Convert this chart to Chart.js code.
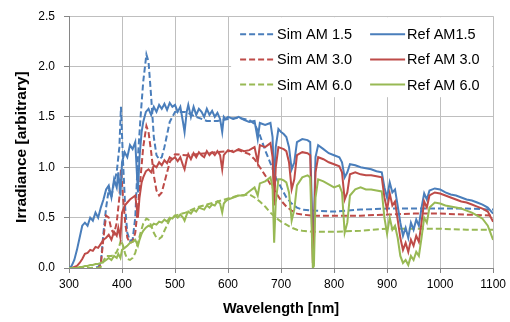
<!DOCTYPE html>
<html lang="en">
<head>
<meta charset="UTF-8">
<title>Irradiance spectra, AM 1.5 / 3.0 / 6.0</title>
<script src="https://cdn.jsdelivr.net/npm/chart.js@4.4.0/dist/chart.umd.min.js"></script>
<style>
  html, body { margin: 0; padding: 0; background: #fff; }
  canvas { display: block; }
</style>
</head>
<body>
<canvas id="myChart" width="510" height="322"></canvas>
<script>
// measured reference spectra (fine grid)
const refWl = [
  300, 305, 310, 315, 320, 325, 330, 335, 340, 345,
  350, 355, 360, 365, 370, 375, 380, 385, 390, 393,
  397, 400, 405, 410, 415, 420, 425, 430, 433, 437,
  440, 445, 450, 455, 460, 465, 470, 475, 480, 485,
  490, 495, 500, 505, 510, 515, 518, 522, 525, 530,
  535, 540, 545, 550, 555, 560, 565, 570, 575, 580,
  585, 589, 592, 595, 600, 610, 620, 630, 640, 650,
  656, 660, 670, 680, 684, 687, 690, 695, 700, 705,
  710, 715, 720, 725, 730, 740, 750, 755, 760, 762,
  765, 770, 780, 790, 800, 810, 815, 820, 825, 830,
  840, 850, 860, 870, 880, 890, 895, 900, 905, 910,
  915, 920, 925, 930, 935, 940, 945, 950, 955, 960,
  965, 970, 975, 980, 990, 1000, 1010, 1020, 1030, 1040,
  1050, 1060, 1070, 1080, 1090, 1100
];
const refAM15 = [
  0.00, 0.02, 0.08, 0.18, 0.30, 0.42, 0.45, 0.42, 0.50, 0.47,
  0.55, 0.50, 0.60, 0.68, 0.78, 0.82, 0.70, 0.88, 0.80, 0.95,
  0.72, 1.05, 1.15, 1.10, 1.22, 1.18, 1.25, 0.75, 1.10, 1.35,
  1.45, 1.55, 1.58, 1.52, 1.60, 1.55, 1.62, 1.58, 1.63, 1.57,
  1.64, 1.60, 1.62, 1.55, 1.60, 1.45, 1.35, 1.55, 1.62, 1.50,
  1.60, 1.52, 1.58, 1.55, 1.50, 1.58, 1.52, 1.56, 1.50, 1.54,
  1.48, 1.35, 1.50, 1.48, 1.50, 1.48, 1.50, 1.47, 1.45, 1.46,
  1.28, 1.44, 1.42, 1.44, 1.30, 0.80, 1.20, 1.38, 1.35, 1.33,
  1.30, 1.20, 0.98, 1.05, 1.25, 1.28, 1.27, 1.25, 0.20, 0.45,
  1.10, 1.22, 1.18, 1.14, 1.12, 1.10, 1.05, 0.90, 0.95, 1.03,
  1.02, 1.00, 0.99, 0.98, 0.96, 0.95, 0.80, 0.70, 0.85, 0.75,
  0.78, 0.62, 0.45, 0.32, 0.40, 0.30, 0.45, 0.38, 0.48, 0.42,
  0.60, 0.74, 0.68, 0.77, 0.79, 0.78, 0.75, 0.73, 0.72, 0.70,
  0.68, 0.67, 0.65, 0.63, 0.60, 0.54
];
const refAM30 = [
  0.00, 0.00, 0.01, 0.02, 0.05, 0.09, 0.14, 0.15, 0.18, 0.17,
  0.21, 0.20, 0.24, 0.28, 0.30, 0.33, 0.28, 0.36, 0.32, 0.40,
  0.30, 0.55, 0.62, 0.65, 0.68, 0.70, 0.72, 0.50, 0.70, 0.85,
  0.90, 0.96, 0.98, 0.95, 1.02, 1.00, 1.05, 1.02, 1.07, 1.04,
  1.10, 1.08, 1.10, 1.06, 1.10, 1.02, 0.98, 1.08, 1.13, 1.08,
  1.14, 1.10, 1.15, 1.12, 1.10, 1.16, 1.12, 1.15, 1.12, 1.16,
  1.12, 0.98, 1.12, 1.14, 1.17, 1.15, 1.18, 1.16, 1.17, 1.20,
  1.05, 1.22, 1.20, 1.24, 1.10, 0.62, 1.00, 1.20, 1.19, 1.18,
  1.16, 1.05, 0.78, 0.88, 1.12, 1.15, 1.14, 1.12, 0.05, 0.25,
  0.95, 1.10, 1.08, 1.05, 1.03, 1.01, 0.95, 0.68, 0.75, 0.93,
  0.95, 0.93, 0.92, 0.92, 0.91, 0.90, 0.70, 0.58, 0.74, 0.62,
  0.66, 0.48, 0.30, 0.18, 0.25, 0.16, 0.28, 0.22, 0.32, 0.26,
  0.45, 0.66, 0.60, 0.72, 0.75, 0.74, 0.72, 0.70, 0.68, 0.66,
  0.65, 0.63, 0.61, 0.59, 0.56, 0.46
];
const refAM60 = [
  0.00, 0.00, 0.00, 0.00, 0.01, 0.01, 0.02, 0.02, 0.03, 0.03,
  0.04, 0.04, 0.05, 0.06, 0.08, 0.10, 0.08, 0.12, 0.10, 0.14,
  0.10, 0.18, 0.20, 0.22, 0.25, 0.26, 0.28, 0.22, 0.28, 0.34,
  0.37, 0.40, 0.42, 0.41, 0.44, 0.43, 0.46, 0.45, 0.48, 0.46,
  0.50, 0.49, 0.52, 0.50, 0.53, 0.50, 0.47, 0.53, 0.56, 0.54,
  0.58, 0.56, 0.60, 0.59, 0.58, 0.62, 0.60, 0.63, 0.62, 0.66,
  0.64, 0.55, 0.64, 0.66, 0.68, 0.70, 0.72, 0.72, 0.76, 0.80,
  0.72, 0.84, 0.86, 0.90, 0.80, 0.25, 0.65, 0.88, 0.88, 0.87,
  0.85, 0.75, 0.47, 0.58, 0.82, 0.90, 0.92, 0.90, 0.00, 0.02,
  0.70, 0.88, 0.86, 0.83, 0.80, 0.82, 0.75, 0.35, 0.45, 0.72,
  0.78, 0.80, 0.78, 0.78, 0.77, 0.76, 0.50, 0.34, 0.50, 0.38,
  0.42, 0.30, 0.12, 0.05, 0.08, 0.03, 0.12, 0.08, 0.16, 0.12,
  0.30, 0.50, 0.45, 0.60, 0.65, 0.64, 0.62, 0.61, 0.60, 0.59,
  0.57, 0.55, 0.52, 0.49, 0.42, 0.28
];

// simulated spectra (coarser grid)
const simWl = [
  300, 340, 355, 360, 365, 370, 375, 380, 385, 390,
  395, 398, 402, 406, 410, 415, 420, 425, 430, 435,
  440, 446, 450, 455, 460, 465, 470, 475, 480, 490,
  500, 520, 540, 560, 580, 600, 620, 640, 650, 660,
  670, 680, 690, 700, 710, 720, 730, 740, 760, 800,
  850, 900, 950, 1000, 1050, 1100
];
const simAM15 = [
  0.00, 0.00, 0.01, 0.05, 0.35, 0.60, 0.78, 0.70, 0.85, 0.95,
  1.20, 1.60, 1.05, 0.60, 0.35, 0.27, 0.28, 0.50, 1.10, 1.50,
  1.85, 2.12, 2.05, 1.70, 1.30, 1.12, 1.08, 1.10, 1.20, 1.45,
  1.55, 1.55, 1.50, 1.46, 1.46, 1.48, 1.49, 1.47, 1.43, 1.32,
  1.17, 1.04, 0.90, 0.80, 0.70, 0.64, 0.60, 0.58, 0.57, 0.56,
  0.58, 0.59, 0.59, 0.59, 0.59, 0.58
];
const simAM30 = [
  0.00, 0.00, 0.00, 0.03, 0.30, 0.52, 0.50, 0.38, 0.34, 0.45,
  0.70, 0.98, 0.70, 0.45, 0.30, 0.25, 0.26, 0.35, 0.60, 0.90,
  1.20, 1.41, 1.35, 1.15, 0.92, 0.77, 0.72, 0.75, 0.85, 1.05,
  1.13, 1.12, 1.13, 1.14, 1.15, 1.16, 1.17, 1.13, 1.08, 1.00,
  0.92, 0.83, 0.75, 0.67, 0.61, 0.57, 0.54, 0.53, 0.52, 0.52,
  0.52, 0.53, 0.54, 0.54, 0.53, 0.52
];
const simAM60 = [
  0.00, 0.00, 0.00, 0.01, 0.07, 0.12, 0.12, 0.12, 0.13, 0.16,
  0.22, 0.28, 0.22, 0.14, 0.09, 0.08, 0.10, 0.15, 0.25, 0.35,
  0.44, 0.49, 0.48, 0.42, 0.35, 0.30, 0.29, 0.31, 0.37, 0.48,
  0.52, 0.55, 0.60, 0.63, 0.66, 0.69, 0.72, 0.73, 0.70, 0.66,
  0.61, 0.55, 0.50, 0.46, 0.43, 0.40, 0.38, 0.37, 0.36, 0.36,
  0.37, 0.39, 0.39, 0.39, 0.38, 0.38
];

const yTicks = [0, 0.5, 1.0, 1.5, 2.0, 2.5];
const xTicks = [300, 400, 500, 600, 700, 800, 900, 1000, 1100];

const BLUE = '#4A7EBB', RED = '#BE4B48', GREEN = '#98B954';
const FONT = '"Liberation Sans", Arial, sans-serif';

function pts(wl, vals) {
  return wl.map((w, i) => ({ x: w, y: vals[i] }));
}

function series(label, wl, vals, color, dashed) {
  return {
    label: label,
    data: pts(wl, vals),
    borderColor: color,
    backgroundColor: color,
    borderWidth: 2,
    borderDash: dashed ? [6, 3] : [],
    pointRadius: 0,
    tension: 0,
    fill: false
  };
}

// legend drawn as a white box inside the plot, two columns (Sim | Ref)
const boxLegend = {
  id: 'boxLegend',
  beforeDatasetsDraw(chart) {
    const ctx = chart.ctx;
    const area = chart.chartArea;
    const rows = [['Sim AM 1.5', 'Ref AM1.5'], ['Sim AM 3.0', 'Ref AM 3.0'], ['Sim AM 6.0', 'Ref AM 6.0']];
    const left = area.right - 262, top = area.top + 1;
    ctx.save();
    ctx.fillStyle = '#fff';
    ctx.fillRect(left, top, 261, 80);
    ctx.font = '14.5px ' + FONT;
    ctx.textBaseline = 'middle';
    ctx.fillStyle = '#000';
    rows.forEach((row, r) => {
      const y = top + 17 + r * 25.2;
      row.forEach((label, c) => {
        const ds = chart.data.datasets.find(d => d.label === label);
        const x0 = left + 9 + c * 130;
        ctx.strokeStyle = ds.borderColor;
        ctx.lineWidth = 2;
        ctx.setLineDash(ds.borderDash);
        ctx.beginPath();
        ctx.moveTo(x0, y);
        ctx.lineTo(x0 + 35, y);
        ctx.stroke();
        ctx.setLineDash([]);
        ctx.fillText(label, x0 + 37, y + 1);
      });
    });
    ctx.restore();
  }
};

// y title sits a little below the middle of the axis, as in the original
const yTitle = {
  id: 'yTitle',
  afterDraw(chart) {
    const ctx = chart.ctx;
    const area = chart.chartArea;
    ctx.save();
    ctx.translate(22, (area.top + area.bottom) / 2 + 5);
    ctx.rotate(-Math.PI / 2);
    ctx.font = 'bold 15.5px ' + FONT;
    ctx.fillStyle = '#000';
    ctx.textAlign = 'center';
    ctx.textBaseline = 'middle';
    ctx.fillText('Irradiance [arbitrary]', 0, 0);
    ctx.restore();
  }
};

Chart.defaults.font.family = FONT;
Chart.defaults.color = '#000';

const ctx = document.getElementById('myChart');
const myChart = new Chart(ctx, {
  type: 'line',
  data: {
    datasets: [
      series('Ref AM 6.0', refWl, refAM60, GREEN, false),
      series('Ref AM 3.0', refWl, refAM30, RED, false),
      series('Ref AM1.5', refWl, refAM15, BLUE, false),
      series('Sim AM 6.0', simWl, simAM60, GREEN, true),
      series('Sim AM 3.0', simWl, simAM30, RED, true),
      series('Sim AM 1.5', simWl, simAM15, BLUE, true)
    ]
  },
  options: {
    responsive: false,
    animation: false,
    layout: { padding: { left: 0, right: 15, top: 14, bottom: 0 } },
    scales: {
      x: {
        type: 'linear',
        min: 300,
        max: 1100,
        afterBuildTicks: (scale) => { scale.ticks = xTicks.map(v => ({ value: v })); },
        afterFit: (scale) => { scale.height = 54; },
        ticks: {
          font: { size: 12 },
          padding: 4,
          maxRotation: 0,
          callback: (v) => String(v)
        },
        grid: { color: '#BFBFBF', lineWidth: 1, tickLength: 5, tickColor: '#868686' },
        border: { color: '#868686', width: 1 },
        title: {
          display: true,
          text: 'Wavelength [nm]',
          font: { size: 14.5, weight: 'bold' },
          padding: { top: 0, bottom: 4 }
        }
      },
      y: {
        min: 0,
        max: 2.5,
        afterBuildTicks: (scale) => { scale.ticks = yTicks.map(v => ({ value: v })); },
        afterFit: (scale) => { scale.width = 69; },
        ticks: {
          font: { size: 12 },
          padding: 9,
          callback: (v) => Number(v).toFixed(1)
        },
        grid: { color: '#BFBFBF', lineWidth: 1, tickLength: 5, tickColor: '#868686' },
        border: { color: '#868686', width: 1 },
        title: { display: false }
      }
    },
    plugins: {
      legend: { display: false },
      tooltip: { enabled: false }
    }
  },
  plugins: [boxLegend, yTitle]
});
</script>
</body>
</html>
